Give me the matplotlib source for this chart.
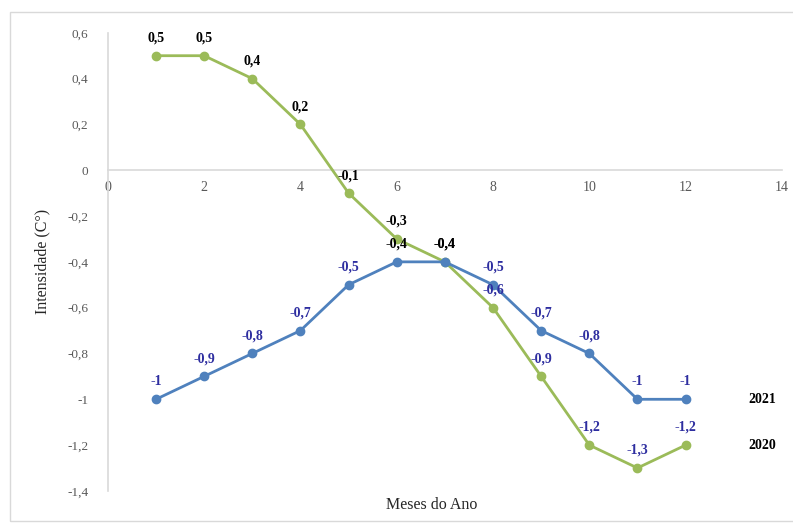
import matplotlib.pyplot as plt
from matplotlib.patches import Rectangle

# data
meses = [1, 2, 3, 4, 5, 6, 7, 8, 9, 10, 11, 12]
serie_2020 = [0.5, 0.5, 0.4, 0.2, -0.1, -0.3, -0.4, -0.6, -0.9, -1.2, -1.3, -1.2]
serie_2021 = [-1.0, -0.9, -0.8, -0.7, -0.5, -0.4, -0.4, -0.5, -0.7, -0.8, -1.0, -1.0]
x_ticks = [0, 2, 4, 6, 8, 10, 12, 14]
y_ticks = [0.6, 0.4, 0.2, 0, -0.2, -0.4, -0.6, -0.8, -1, -1.2, -1.4]

GREEN = '#9BBB59'
BLUE = '#4F81BD'
LABEL_BLUE = '#2E2EA0'
GRAY = '#595959'
SERIF = 'Liberation Serif'


def fmt(v):
    return ('%g' % v).replace('.', ',')


fig = plt.figure(figsize=(7.93, 5.29), dpi=100)
fig.patches.append(Rectangle((10 / 793, 8 / 529), 0.99, 1 - 20 / 529,
                             transform=fig.transFigure, fill=False,
                             edgecolor='#D9D9D9', linewidth=1))
ax = fig.add_axes([0.136, 0.072, 0.85, 0.866])

# spines first (set_position resets the ticks)
ax.spines['bottom'].set_position(('data', 0))
ax.spines['bottom'].set_color('#D9D9D9')
ax.spines['bottom'].set_linewidth(1.2)
ax.spines['left'].set_color('#D9D9D9')
ax.spines['left'].set_linewidth(1.2)
ax.spines['top'].set_visible(False)
ax.spines['right'].set_visible(False)

ax.plot(meses, serie_2020, color=GREEN, linewidth=2, marker='o',
        markersize=6, zorder=3)
ax.plot(meses, serie_2021, color=BLUE, linewidth=2, marker='o',
        markersize=6, zorder=3)

# data labels
for m, v in zip(meses, serie_2021):
    c = 'black' if m in (6, 7) else LABEL_BLUE
    ax.annotate(fmt(v), (m, v), xytext=(0, 8), textcoords='offset points',
                ha='center', va='bottom', fontsize=10, fontweight='bold',
                color=c, family=SERIF, zorder=4)
for m, v in zip(meses, serie_2020):
    c = 'black' if m <= 7 else LABEL_BLUE
    ax.annotate(fmt(v), (m, v), xytext=(0, 8), textcoords='offset points',
                ha='center', va='bottom', fontsize=10, fontweight='bold',
                color=c, family=SERIF, zorder=4)

# series names at the right
ax.text(13.6, serie_2021[-1], '2021', ha='center', va='center', fontsize=10,
        fontweight='bold', family=SERIF, color='black')
ax.text(13.6, serie_2020[-1], '2020', ha='center', va='center', fontsize=10,
        fontweight='bold', family=SERIF, color='black')

ax.set_xlim(0, 14)
ax.set_ylim(-1.4, 0.6)
ax.set_xticks(x_ticks)
ax.set_yticks(y_ticks)
ax.set_xticklabels([fmt(t) for t in x_ticks], family=SERIF, fontsize=10, color=GRAY)
ax.set_yticklabels([fmt(t) for t in y_ticks], family=SERIF, fontsize=9.5, color=GRAY)
ax.tick_params(length=0)
ax.tick_params(axis='x', pad=8)
ax.tick_params(axis='y', pad=14)

ax.set_ylabel('Intensidade (C°)', family=SERIF, fontsize=11.5, color='#262626', labelpad=12)
fig.text(0.545, 0.045, 'Meses do Ano', ha='center', va='center',
         family=SERIF, fontsize=11.5, color='#262626')

fig.savefig('out.png', dpi=100, facecolor='white')
